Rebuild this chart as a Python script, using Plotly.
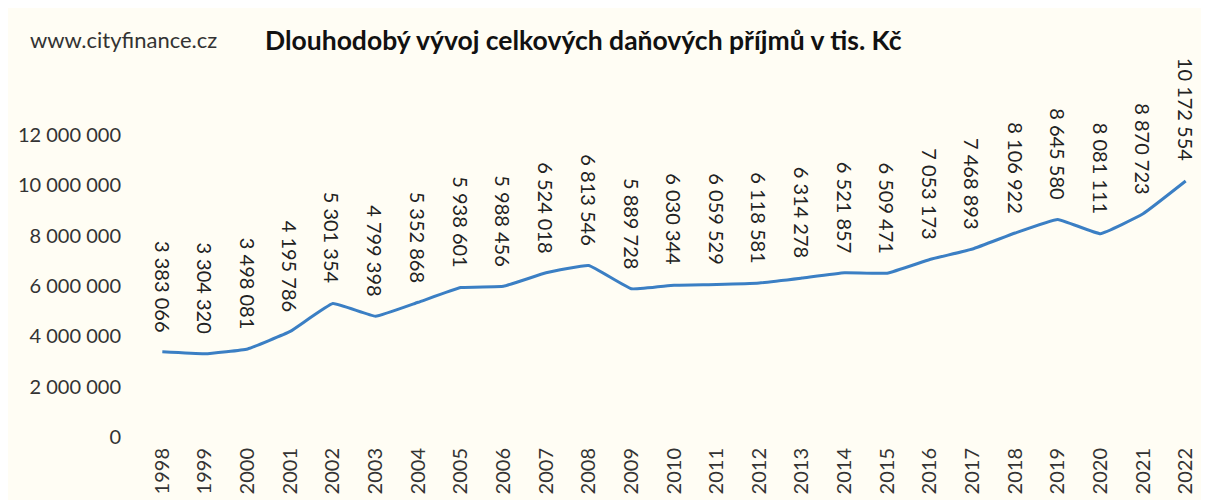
import plotly.graph_objects as go

# Data
roky = [str(r) for r in range(1998, 2023)]
prijmy = [3383066, 3304320, 3498081, 4195786, 5301354, 4799398, 5352868,
          5938601, 5988456, 6524018, 6813546, 5889728, 6030344, 6059529,
          6118581, 6314278, 6521857, 6509471, 7053173, 7468893, 8106922,
          8645580, 8081111, 8870723, 10172554]

FONT = "Lato, 'Open Sans', sans-serif"
BG = "#fffdf4"


def fmt(v):
    return f"{v:,}".replace(",", " ")


fig = go.Figure()

fig.add_trace(go.Scatter(
    x=roky,
    y=prijmy,
    mode="lines",
    line=dict(color="#3b7fc4", width=3, shape="spline", smoothing=0.3),
    hoverinfo="x+y",
))

# popisky hodnot (otočené) - na kategoriální ose se zadává index kategorie
for i, v in enumerate(prijmy):
    fig.add_annotation(
        x=i, y=v, text=fmt(v),
        textangle=90, showarrow=False,
        xanchor="center", yanchor="bottom", yshift=18,
        font=dict(family=FONT, size=20, color="#222222"),
    )

fig.add_annotation(
    text="www.cityfinance.cz", xref="paper", yref="paper",
    x=-0.1056, y=1.315, xanchor="left", yanchor="middle",
    showarrow=False, font=dict(family=FONT, size=22, color="#333333"),
)
fig.add_annotation(
    text="<b>Dlouhodobý vývoj celkových daňových příjmů v tis. Kč</b>",
    xref="paper", yref="paper", x=0.1148, y=1.315,
    xanchor="left", yanchor="middle", showarrow=False,
    font=dict(family=FONT, size=26.5, color="#111111"),
)

# stránka má okraj body 8 px, proto jsou okraje posunuté
fig.update_layout(
    width=1209, height=500,
    paper_bgcolor=BG,
    plot_bgcolor=BG,
    showlegend=False,
    font=dict(family=FONT, color="#333333"),
    margin=dict(l=133, r=10, t=127, b=71),
    xaxis=dict(
        type="category", range=[-0.5, 24.5], automargin=False,
        tickangle=-90, showgrid=False, showline=False, zeroline=False,
        ticklabelstandoff=6,
        tickfont=dict(family=FONT, size=20, color="#333333"),
    ),
    yaxis=dict(
        range=[0, 12000000], automargin=False,
        tickvals=[0, 2000000, 4000000, 6000000, 8000000, 10000000, 12000000],
        ticktext=["0", "2 000 000", "4 000 000", "6 000 000", "8 000 000",
                  "10 000 000", "12 000 000"],
        showgrid=False, zeroline=False, showline=False,
        ticklabelstandoff=19,
        tickfont=dict(family=FONT, size=20, color="#333333"),
    ),
)

fig.write_html("out.html")
